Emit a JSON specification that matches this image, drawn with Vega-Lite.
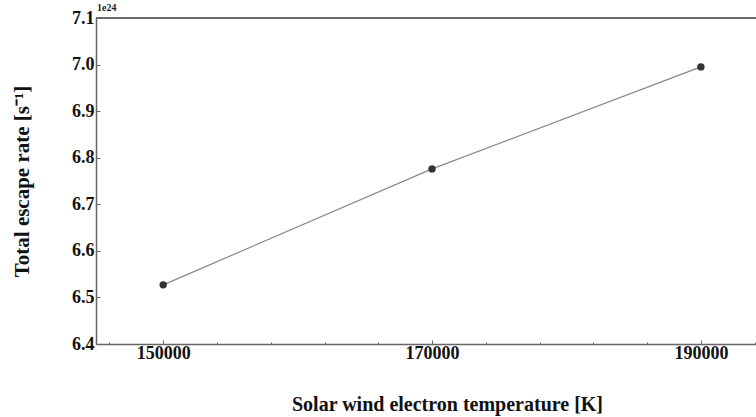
{
  "$schema": "https://vega.github.io/schema/vega-lite/v6.json",
  "width": 660,
  "height": 326,
  "autosize": {"type": "none"},
  "padding": {"left": 96, "top": 18, "right": 0, "bottom": 73},
  "background": "white",
  "config": {"view": {"stroke": null}, "font": "Liberation Serif"},
  "title": {"text": "1e24", "anchor": "start", "frame": "group", "fontSize": 10, "fontWeight": "bold", "font": "Liberation Serif", "color": "#222", "offset": 0, "baseline": "bottom", "dy": 14, "dx": 1},
  "data": {"values": [
    {"temperature": 150000, "escape_rate": 6.527e24},
    {"temperature": 170000, "escape_rate": 6.776e24},
    {"temperature": 190000, "escape_rate": 6.995e24}
  ]},
  "layer": [
    {
      "mark": {"type": "rule", "color": "#666", "strokeWidth": 1.5},
      "encoding": {"y": {"datum": 7.1e24, "type": "quantitative"}}
    },
    {
      "mark": {"type": "line", "color": "#888", "strokeWidth": 1.2},
      "encoding": {
        "x": {"field": "temperature", "type": "quantitative",
          "scale": {"domain": [145000, 194100], "nice": false, "zero": false},
          "axis": {
            "title": "Solar wind electron temperature [K]",
            "values": [146000,148000,150000,152000,154000,156000,158000,160000,162000,164000,166000,168000,170000,172000,174000,176000,178000,180000,182000,184000,186000,188000,190000,192000,194000],
            "labelExpr": "datum.value % 10000 === 0 ? format(datum.value, 'd') : ''",
            "tickSize": {"condition": {"test": "datum.value % 10000 === 0", "value": -4}, "value": -2},
            "grid": false, "domainColor": "#666", "domainWidth": 1.5, "tickColor": "#666",
            "labelFont": "Liberation Serif", "labelFontSize": 18, "labelFontWeight": "bold", "labelColor": "#111",
            "labelPadding": 4, "labelFlush": false,
            "titleFont": "Liberation Serif", "titleFontSize": 20, "titleFontWeight": "bold", "titleColor": "#111",
            "titlePadding": 32, "titleX": 351
          }
        },
        "y": {"field": "escape_rate", "type": "quantitative",
          "scale": {"domain": [6.4e24, 7.1e24], "nice": false, "zero": false},
          "axis": {
            "title": "Total escape rate [s⁻¹]",
            "values": [6.4e24, 6.5e24, 6.6e24, 6.7e24, 6.8e24, 6.9e24, 7.0e24, 7.1e24],
            "labelExpr": "format(datum.value / 1e24, '.1f')",
            "tickSize": -4,
            "grid": false, "domainColor": "#666", "domainWidth": 1.5, "tickColor": "#666",
            "labelFont": "Liberation Serif", "labelFontSize": 18, "labelFontWeight": "bold", "labelColor": "#111",
            "labelPadding": 6, "labelFlush": false,
            "titleFont": "Liberation Serif", "titleFontSize": 21, "titleFontWeight": "bold", "titleColor": "#111",
            "titlePadding": 39
          }
        }
      }
    },
    {
      "mark": {"type": "point", "filled": true, "color": "#333", "size": 55, "opacity": 1},
      "encoding": {
        "x": {"field": "temperature", "type": "quantitative"},
        "y": {"field": "escape_rate", "type": "quantitative"}
      }
    }
  ]
}
